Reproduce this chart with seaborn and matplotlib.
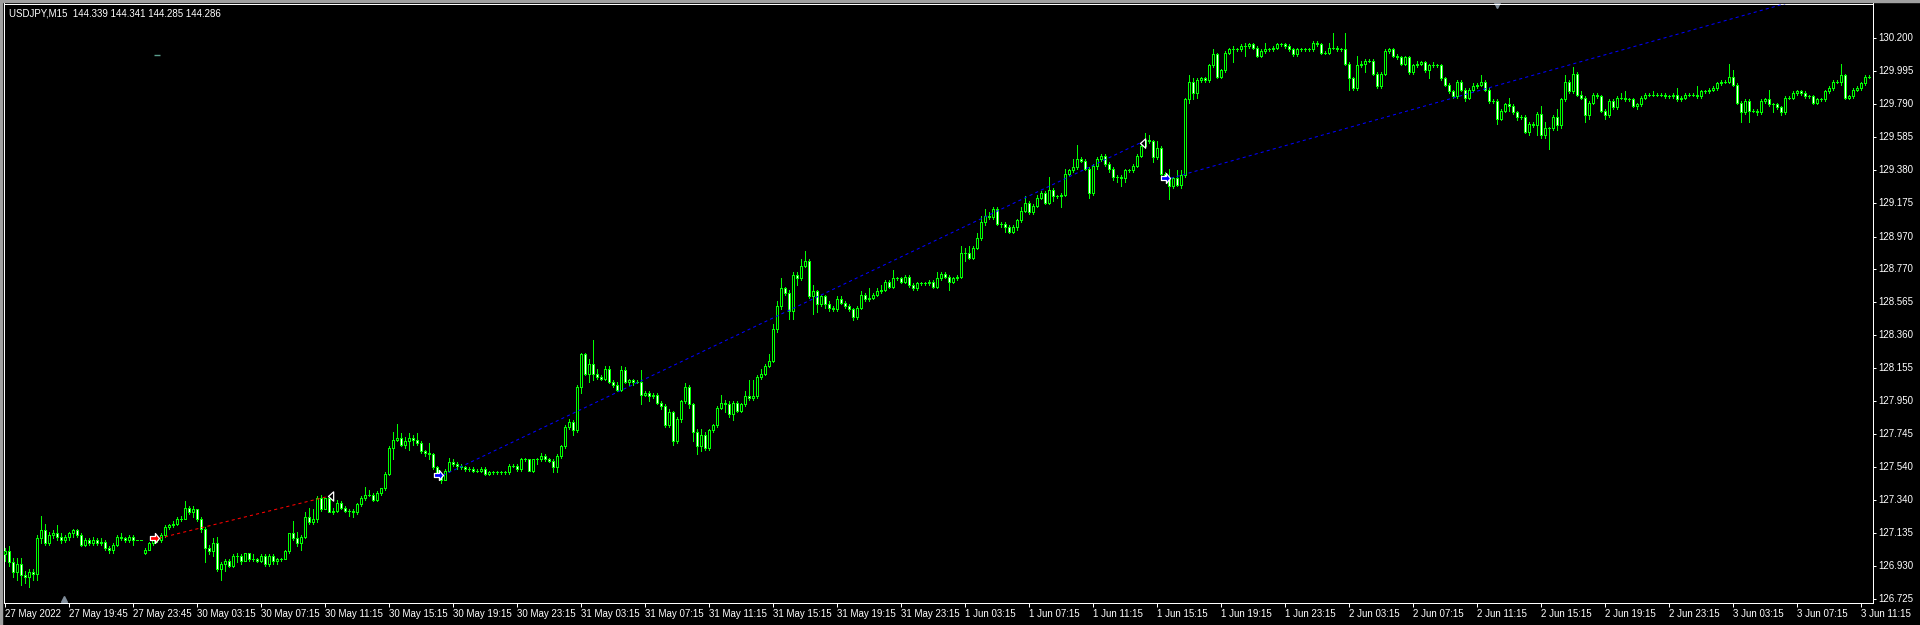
import numpy as np
import pandas as pd
import matplotlib
matplotlib.use('Agg')
from matplotlib import pyplot as plt
from matplotlib.path import Path
from matplotlib.patches import Rectangle
import matplotlib.transforms as mtrans
import seaborn as sns

# USDJPY M15 closes, 27 May 15:45 -> 3 Jun 11:45 (one row = 16 bars = 4 hours)
closes = [
    127.02, 126.95, 126.89, 126.94, 126.87, 126.86, 126.89, 126.88, 127.10, 127.15, 127.07, 127.12, 127.13, 127.11, 127.09, 127.11,
    127.13, 127.15, 127.12, 127.06, 127.09, 127.07, 127.09, 127.07, 127.08, 127.04, 127.03, 127.06, 127.11, 127.10, 127.09, 127.11,
    127.09, 127.09, 127.09, 127.03, 127.07, 127.10, 127.09, 127.12, 127.17, 127.18, 127.19, 127.22, 127.22, 127.29, 127.26, 127.28,
    127.22, 127.16, 127.04, 127.02, 127.07, 126.91, 126.94, 126.96, 126.93, 126.99, 126.99, 126.96, 127.01, 126.97, 126.97, 126.96,
    126.99, 126.94, 126.99, 126.96, 126.97, 126.97, 127.02, 127.13, 127.10, 127.07, 127.11, 127.23, 127.20, 127.22, 127.35, 127.28,
    127.35, 127.26, 127.27, 127.32, 127.29, 127.27, 127.27, 127.26, 127.31, 127.35, 127.37, 127.37, 127.34, 127.38, 127.41, 127.50,
    127.66, 127.71, 127.72, 127.68, 127.70, 127.72, 127.71, 127.69, 127.64, 127.63, 127.62, 127.54, 127.49, 127.46, 127.52, 127.57,
    127.56, 127.55, 127.54, 127.53, 127.53, 127.52, 127.52, 127.53, 127.50, 127.51, 127.51, 127.51, 127.51, 127.51, 127.55, 127.55,
    127.53, 127.59, 127.59, 127.52, 127.59, 127.59, 127.61, 127.59, 127.58, 127.54, 127.61, 127.67, 127.79, 127.82, 127.77, 128.04,
    128.24, 128.12, 128.18, 128.12, 128.10, 128.09, 128.15, 128.07, 128.05, 128.02, 128.14, 128.07, 128.08, 128.07, 128.07, 127.99,
    128.00, 127.98, 127.99, 127.94, 127.92, 127.80, 127.88, 127.70, 127.84, 127.95, 128.04, 127.93, 127.76, 127.67, 127.74, 127.66,
    127.77, 127.80, 127.91, 127.94, 127.93, 127.87, 127.94, 127.89, 127.93, 127.98, 127.97, 127.98, 128.10, 128.12, 128.17, 128.20,
    128.40, 128.54, 128.65, 128.62, 128.51, 128.73, 128.71, 128.79, 128.82, 128.60, 128.63, 128.55, 128.60, 128.55, 128.53, 128.52,
    128.58, 128.56, 128.54, 128.52, 128.47, 128.53, 128.61, 128.58, 128.59, 128.61, 128.63, 128.64, 128.69, 128.66, 128.71, 128.71,
    128.69, 128.72, 128.67, 128.65, 128.68, 128.68, 128.68, 128.69, 128.66, 128.71, 128.74, 128.72, 128.69, 128.71, 128.72, 128.87,
    128.87, 128.84, 128.90, 128.96, 129.06, 129.10, 129.09, 129.14, 129.05, 129.05, 129.03, 129.00, 129.03, 129.07, 129.13, 129.18,
    129.12, 129.16, 129.21, 129.24, 129.18, 129.26, 129.22, 129.22, 129.23, 129.36, 129.38, 129.40, 129.45, 129.44, 129.39, 129.24,
    129.41, 129.45, 129.47, 129.42, 129.39, 129.34, 129.34, 129.33, 129.38, 129.38, 129.41, 129.47, 129.53, 129.57, 129.56, 129.46,
    129.52, 129.36, 129.33, 129.28, 129.33, 129.29, 129.35, 129.82, 129.93, 129.86, 129.94, 129.95, 129.94, 130.03, 130.10, 129.96,
    130.00, 130.11, 130.13, 130.13, 130.13, 130.15, 130.15, 130.16, 130.14, 130.09, 130.12, 130.13, 130.13, 130.14, 130.16, 130.16,
    130.15, 130.13, 130.10, 130.13, 130.13, 130.13, 130.13, 130.17, 130.16, 130.11, 130.11, 130.14, 130.14, 130.13, 130.13, 130.04,
    129.95, 129.89, 130.03, 130.04, 130.06, 130.06, 129.98, 129.90, 129.98, 130.12, 130.13, 130.09, 130.08, 130.04, 130.08, 129.99,
    130.03, 130.04, 130.05, 130.00, 130.03, 130.03, 130.03, 129.95, 129.91, 129.87, 129.84, 129.93, 129.88, 129.83, 129.88, 129.90,
    129.91, 129.93, 129.88, 129.81, 129.81, 129.70, 129.75, 129.79, 129.78, 129.74, 129.71, 129.71, 129.62, 129.67, 129.66, 129.73,
    129.60, 129.64, 129.64, 129.71, 129.66, 129.82, 129.93, 129.87, 129.98, 129.85, 129.83, 129.72, 129.80, 129.85, 129.84, 129.75,
    129.72, 129.81, 129.77, 129.83, 129.83, 129.82, 129.82, 129.78, 129.79, 129.83, 129.85, 129.85, 129.85, 129.85, 129.85, 129.84,
    129.84, 129.85, 129.82, 129.83, 129.85, 129.85, 129.85, 129.84, 129.87, 129.87, 129.88, 129.89, 129.92, 129.93, 129.93, 129.96,
    129.91, 129.80, 129.74, 129.81, 129.75, 129.75, 129.74, 129.81, 129.82, 129.79, 129.79, 129.77, 129.74, 129.83, 129.83, 129.86,
    129.87, 129.86, 129.84, 129.84, 129.80, 129.82, 129.82, 129.87, 129.89, 129.93, 129.93, 129.97, 129.83, 129.84, 129.88, 129.89,
    129.92, 129.96, 129.96,
]

# shadows above / below the body, in 0.01 JPY
wick_up = [
    2, 3, 3, 4, 4, 3, 2, 2, 2, 9, 4, 2, 2, 5, 2, 1,
    1, 1, 1, 1, 1, 1, 2, 1, 2, 1, 1, 1, 1, 2, 1, 1,
    1, 0, 0, 1, 1, 1, 1, 1, 1, 1, 2, 1, 2, 4, 1, 2,
    0, 1, 1, 2, 3, 4, 1, 1, 1, 1, 2, 1, 0, 0, 3, 1,
    1, 1, 1, 1, 1, 1, 1, 0, 8, 4, 1, 3, 6, 6, 1, 2,
    0, 1, 2, 2, 1, 1, 1, 1, 1, 1, 5, 3, 1, 1, 0, 1,
    1, 5, 9, 3, 3, 3, 2, 4, 1, 1, 6, 1, 1, 1, 1, 3,
    2, 1, 1, 1, 1, 1, 1, 1, 1, 1, 1, 1, 1, 1, 1, 1,
    1, 1, 1, 0, 0, 1, 2, 1, 1, 1, 1, 1, 1, 2, 1, 1,
    1, 1, 3, 15, 3, 1, 2, 2, 1, 2, 3, 2, 1, 1, 1, 7,
    1, 1, 1, 1, 1, 1, 2, 1, 1, 1, 2, 1, 1, 2, 4, 2,
    1, 1, 1, 5, 2, 2, 1, 1, 1, 3, 10, 10, 1, 3, 1, 4,
    3, 3, 6, 1, 2, 2, 2, 4, 6, 1, 4, 1, 1, 1, 2, 1,
    2, 2, 1, 1, 1, 1, 2, 1, 6, 1, 2, 3, 1, 1, 5, 1,
    1, 1, 1, 1, 1, 1, 1, 1, 1, 4, 1, 1, 1, 1, 1, 4,
    3, 4, 1, 3, 4, 4, 2, 1, 1, 1, 1, 1, 1, 1, 2, 4,
    1, 1, 2, 1, 1, 8, 1, 1, 1, 3, 1, 5, 9, 1, 1, 1,
    1, 1, 1, 1, 1, 1, 1, 1, 1, 1, 1, 1, 1, 4, 3, 1,
    4, 1, 1, 6, 1, 5, 3, 1, 4, 2, 1, 1, 1, 1, 3, 1,
    1, 1, 1, 2, 1, 1, 2, 1, 1, 1, 1, 4, 1, 1, 1, 1,
    1, 1, 1, 1, 1, 1, 1, 1, 1, 1, 1, 3, 9, 1, 1, 10,
    1, 1, 6, 2, 1, 1, 1, 1, 1, 1, 1, 1, 1, 1, 1, 1,
    1, 2, 1, 1, 1, 2, 1, 1, 1, 1, 1, 1, 1, 1, 1, 2,
    1, 4, 1, 1, 1, 1, 1, 1, 4, 1, 1, 1, 1, 1, 1, 1,
    5, 4, 1, 1, 5, 1, 4, 1, 4, 1, 2, 1, 1, 1, 1, 1,
    1, 1, 1, 1, 3, 4, 1, 1, 1, 1, 1, 1, 2, 1, 1, 1,
    1, 1, 4, 1, 1, 1, 1, 5, 1, 1, 1, 1, 1, 1, 1, 8,
    4, 1, 1, 1, 1, 1, 1, 1, 1, 6, 1, 1, 1, 1, 1, 1,
    1, 1, 1, 1, 1, 1, 1, 1, 1, 1, 1, 7, 1, 1, 1, 1,
    1, 1, 1,
]
wick_dn = [
    4, 2, 3, 5, 6, 4, 6, 4, 4, 3, 1, 1, 2, 2, 2, 1,
    2, 2, 1, 1, 1, 1, 1, 1, 1, 1, 2, 2, 1, 1, 1, 1,
    3, 0, 0, 1, 0, 1, 1, 1, 1, 1, 1, 1, 1, 0, 1, 3,
    1, 2, 9, 2, 3, 1, 7, 4, 1, 1, 4, 2, 0, 1, 1, 1,
    1, 1, 1, 2, 2, 1, 0, 1, 1, 2, 4, 1, 1, 1, 2, 1,
    0, 0, 1, 1, 1, 1, 3, 3, 1, 1, 1, 1, 1, 1, 1, 1,
    1, 7, 1, 1, 2, 5, 3, 1, 1, 2, 3, 1, 1, 2, 0, 1,
    1, 2, 1, 1, 1, 1, 1, 1, 1, 1, 1, 1, 1, 1, 1, 1,
    1, 1, 1, 0, 1, 3, 1, 1, 1, 3, 3, 1, 1, 1, 3, 1,
    4, 1, 5, 4, 1, 1, 1, 1, 1, 1, 1, 1, 2, 2, 1, 6,
    1, 3, 1, 1, 2, 1, 1, 2, 1, 2, 1, 2, 6, 5, 3, 1,
    1, 1, 1, 1, 5, 2, 4, 1, 1, 1, 1, 1, 1, 1, 1, 1,
    1, 2, 2, 1, 5, 5, 4, 1, 1, 1, 11, 5, 1, 2, 2, 1,
    1, 1, 1, 1, 2, 1, 1, 1, 1, 1, 1, 1, 1, 1, 1, 1,
    1, 1, 1, 1, 1, 1, 1, 1, 1, 1, 1, 1, 5, 1, 1, 1,
    5, 1, 1, 1, 1, 2, 1, 1, 1, 2, 3, 1, 1, 2, 1, 1,
    1, 1, 1, 1, 1, 1, 3, 1, 7, 1, 1, 1, 1, 1, 1, 3,
    1, 2, 1, 1, 2, 2, 3, 5, 2, 1, 1, 1, 1, 1, 1, 3,
    1, 1, 1, 8, 1, 1, 2, 1, 2, 4, 3, 1, 1, 1, 1, 1,
    1, 1, 1, 8, 1, 1, 6, 1, 1, 1, 1, 1, 1, 1, 1, 1,
    1, 1, 1, 1, 1, 1, 1, 1, 1, 1, 1, 1, 1, 1, 1, 1,
    7, 1, 1, 1, 5, 1, 1, 1, 1, 1, 1, 1, 1, 1, 1, 1,
    1, 1, 1, 1, 5, 1, 1, 1, 1, 1, 1, 1, 1, 2, 1, 1,
    1, 1, 1, 1, 1, 3, 1, 1, 3, 1, 2, 1, 1, 2, 1, 6,
    2, 2, 13, 1, 3, 2, 1, 1, 1, 1, 1, 4, 2, 1, 1, 1,
    2, 1, 1, 1, 1, 1, 1, 1, 2, 1, 1, 1, 1, 1, 1, 1,
    1, 1, 1, 1, 1, 1, 1, 1, 1, 1, 1, 1, 1, 1, 1, 1,
    1, 1, 6, 1, 7, 1, 2, 1, 1, 1, 5, 1, 2, 1, 1, 1,
    1, 1, 1, 1, 1, 1, 1, 1, 1, 1, 1, 2, 1, 1, 1, 1,
    1, 1, 1,
]

# bars whose open is not the previous close (session gaps)
gap_opens = {0: 127.00, 35: 127.01}

time_labels = ['27 May 2022', '27 May 19:45', '27 May 23:45',
               '30 May 03:15', '30 May 07:15', '30 May 11:15', '30 May 15:15', '30 May 19:15', '30 May 23:15',
               '31 May 03:15', '31 May 07:15', '31 May 11:15', '31 May 15:15', '31 May 19:15', '31 May 23:15',
               '1 Jun 03:15', '1 Jun 07:15', '1 Jun 11:15', '1 Jun 15:15', '1 Jun 19:15', '1 Jun 23:15',
               '2 Jun 03:15', '2 Jun 07:15', '2 Jun 11:15', '2 Jun 15:15', '2 Jun 19:15', '2 Jun 23:15',
               '3 Jun 03:15', '3 Jun 07:15', '3 Jun 11:15']
price_ticks = [130.200, 129.995, 129.790, 129.585, 129.380, 129.175, 128.970, 128.770, 128.565,
               128.360, 128.155, 127.950, 127.745, 127.540, 127.340, 127.135, 126.930, 126.725]

# trade history objects (open arrow -> dashed line -> close mark)
trade_color = ['#ff0000', '#0000ff', '#0000ff']
trade_open_bar = [38.4, 109.4, 291.3]
trade_open_price = [127.10, 127.49, 129.331]
trade_close_bar = [80.8, 283.7, 480.0]
trade_close_price = [127.36, 129.55, 130.66]
trade_closed = [True, True, False]

assert len(closes) == len(wick_up) == len(wick_dn) == 467

LIME = '#00ff00'

sns.set_theme(style='dark', rc={'axes.facecolor': 'black', 'figure.facecolor': 'black',
                                'axes.edgecolor': 'white', 'text.color': 'white',
                                'xtick.color': 'white', 'ytick.color': 'white'})
plt.rcParams['font.family'] = ['Liberation Sans', 'DejaVu Sans']

df = pd.DataFrame({'close': closes, 'up': wick_up, 'dn': wick_dn})
df['bar'] = np.arange(len(df))
df['open'] = df['close'].shift(1).fillna(df['close'])
for b, o in gap_opens.items():
    df.loc[b, 'open'] = o
df['top'] = df[['open', 'close']].max(axis=1)
df['bot'] = df[['open', 'close']].min(axis=1)
df['high'] = df['top'] + df['up'] / 100
df['low'] = df['bot'] - df['dn'] / 100
bear = df['close'] < df['open']

fig = plt.figure(figsize=(19.2, 6.25), dpi=100)
ax = fig.add_axes([3.5 / 1920, 22 / 625, 1869 / 1920, 599.5 / 625])

# window bezel
fig.patches.append(Rectangle((0, 1 - 2 / 625), 1, 2 / 625, transform=fig.transFigure,
                             color='#a0a0a0', zorder=0))
fig.patches.append(Rectangle((0, 0), 2 / 1920, 1, transform=fig.transFigure,
                             color='#a0a0a0', zorder=0))

ax.vlines(df['bar'], df['low'], df['high'], color=LIME, lw=0.72, antialiased=False, zorder=2)
ax.bar(df['bar'], df['top'] - df['bot'], bottom=df['bot'], width=0.5,
       color=np.where(bear, 'white', 'black'), edgecolor=LIME, linewidth=0.72,
       antialiased=False, zorder=3)

arrow = Path([(-1, -0.22), (-0.45, -0.22), (-0.45, -0.55), (0, 0), (-0.45, 0.55),
              (-0.45, 0.22), (-1, 0.22), (-1, -0.22)], closed=True)
close_mark = Path([(0, 0), (1, -0.9), (1, 0.9), (0, 0)], closed=True)

for i in range(len(trade_color)):
    sns.lineplot(x=[trade_open_bar[i], trade_close_bar[i]],
                 y=[trade_open_price[i], trade_close_price[i]],
                 color=trade_color[i], lw=0.75, linestyle=(0, (3, 3)),
                 errorbar=None, ax=ax, zorder=4)
    sns.scatterplot(x=[trade_open_bar[i]], y=[trade_open_price[i]], marker=arrow, s=170,
                    color=trade_color[i], edgecolor='white', linewidth=0.9, ax=ax, zorder=6)
    if trade_closed[i]:
        sns.scatterplot(x=[trade_close_bar[i]], y=[trade_close_price[i]], marker=close_mark, s=55,
                        color='black', edgecolor='white', linewidth=0.9, ax=ax, zorder=6)

# small stop level dash of the first trade
ax.plot([38], [130.095], marker='_', ms=5, mew=1, color='#5a9e8c')

# terminal scroll markers
blend = mtrans.blended_transform_factory(ax.transData, ax.transAxes)
ax.plot([373], [0.997], marker='v', ms=5, color='#7f8c99', transform=blend, clip_on=False)
ax.plot([14.7], [0.006], marker='^', ms=5, color='#7f8c99', transform=blend, clip_on=False)

ax.set_xlim(-0.45, 466.8)
ax.set_ylim(126.699, 130.414)

ax.set_xticks(np.arange(0, 16 * len(time_labels), 16))
ax.set_xticklabels(time_labels, ha='left', fontsize=7)
ax.yaxis.tick_right()
ax.set_yticks(price_ticks)
ax.set_yticklabels([f'{p:.3f}' for p in price_ticks], fontsize=7, va='center')
ax.tick_params(axis='x', direction='out', length=3, width=0.72, pad=1, bottom=True)
ax.tick_params(axis='y', direction='out', length=2.5, width=0.72, pad=2, right=True, left=False)
ax.grid(False)
for s in ax.spines.values():
    s.set_color('white')
    s.set_linewidth(0.72)

fig.text(9 / 1920, 1 - 13 / 625, 'USDJPY,M15  144.339 144.341 144.285 144.286',
         fontsize=7, color='white', va='center', ha='left')

fig.savefig('out.png', dpi=100, facecolor='black')
